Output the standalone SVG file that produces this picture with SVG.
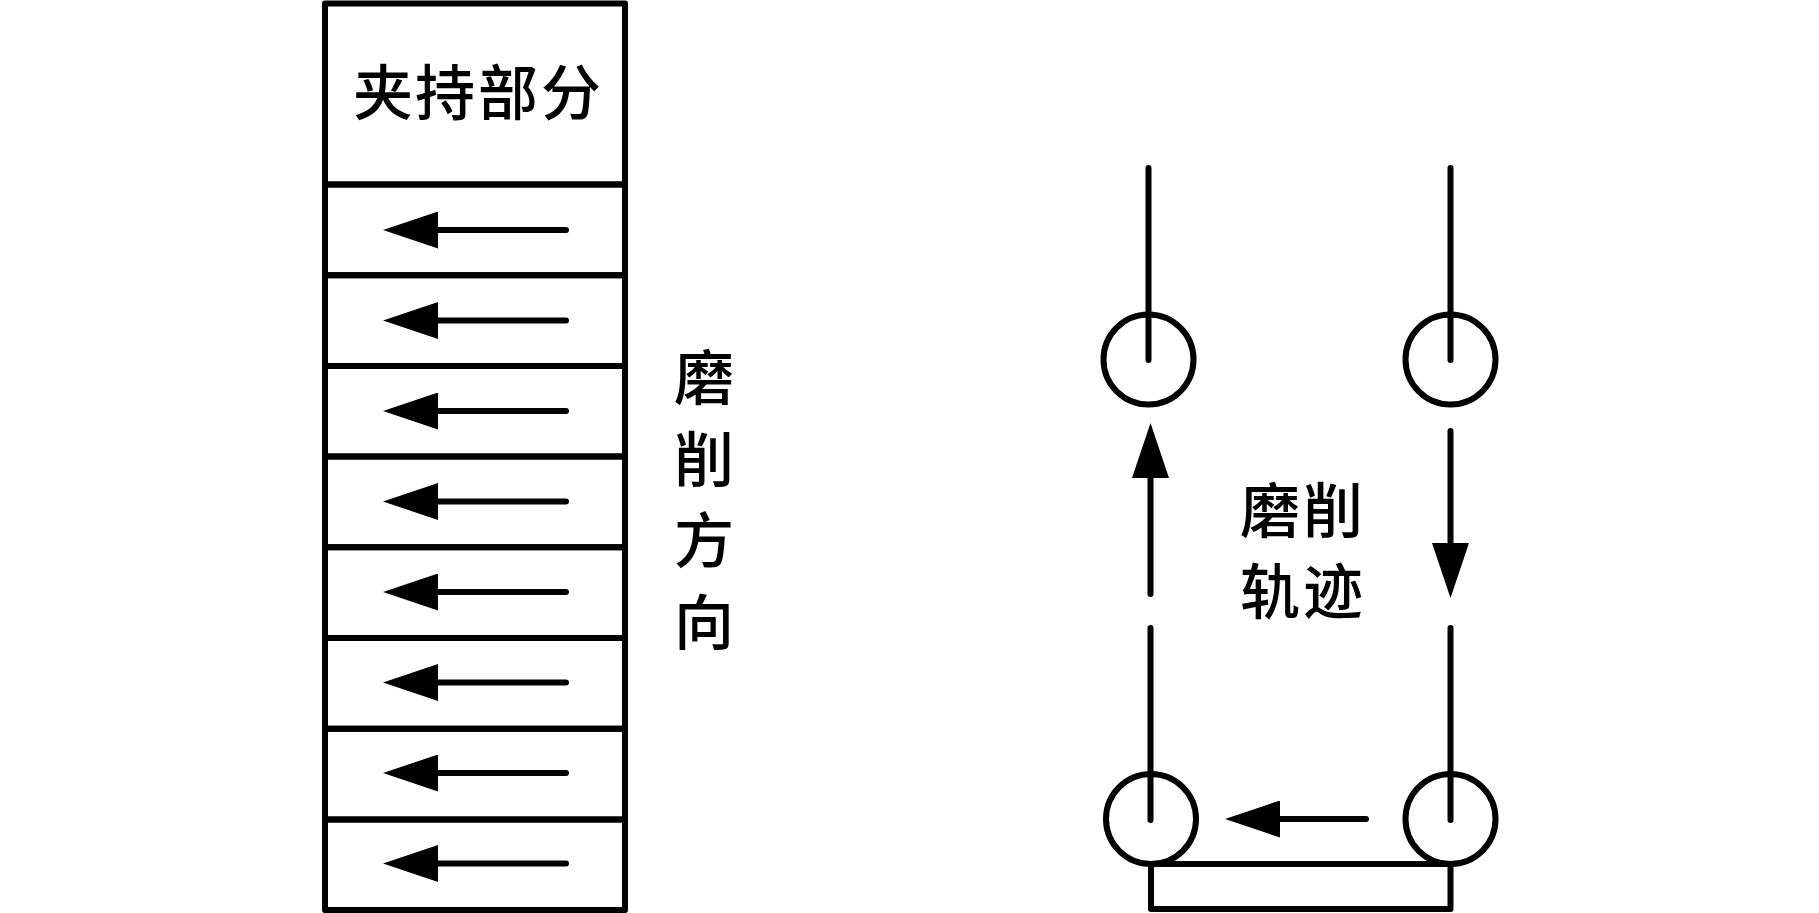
<svg xmlns="http://www.w3.org/2000/svg" width="1819" height="913" viewBox="0 0 1819 913">
<style>
.s{fill:none;stroke:#000;stroke-width:6;stroke-linecap:round;stroke-linejoin:round}
.a{marker-end:url(#arrow)}
.t{font-family:"Noto Sans CJK SC","Noto Sans CJK TC",sans-serif;font-size:60px;font-weight:500;fill:#000;text-anchor:middle}
</style>
<defs>
<marker id="arrow" markerUnits="userSpaceOnUse" viewBox="0 0 55 37" refX="0" refY="18.500" markerWidth="55" markerHeight="37" orient="auto"><path d="M0,0L55,18.500L0,37Z" fill="#000"/></marker>
</defs>
<rect width="1819" height="913" fill="#fff"/>
<g id="clamp"><rect class="s" x="325" y="3.500" width="300" height="181"/><text class="t" x="383 445 508 571" y="115">夹持部分</text></g>
<g id="seg1"><rect class="s" x="325" y="184.500" width="300" height="90.700"/></g>
<g id="seg2"><rect class="s" x="325" y="275.200" width="300" height="90.700"/></g>
<g id="seg3"><rect class="s" x="325" y="365.900" width="300" height="90.700"/></g>
<g id="seg4"><rect class="s" x="325" y="456.600" width="300" height="90.700"/></g>
<g id="seg5"><rect class="s" x="325" y="547.300" width="300" height="90.700"/></g>
<g id="seg6"><rect class="s" x="325" y="638" width="300" height="90.700"/></g>
<g id="seg7"><rect class="s" x="325" y="728.700" width="300" height="90.700"/></g>
<g id="seg8"><rect class="s" x="325" y="819.400" width="300" height="90.700"/></g>
<g id="label-direction"><text class="t" x="704 704 704 704" y="400 482 563 645">磨削方向</text></g>
<g id="label-track"><text class="t" x="1270 1333" y="533">磨削</text><text class="t" x="1270 1333" y="614">轨迹</text></g>
<g id="wheel-tl"><circle class="s" cx="1148.500" cy="359.500" r="45"/></g>
<g id="wheel-tr"><circle class="s" cx="1450.500" cy="359.500" r="45"/></g>
<g id="wheel-bl"><circle class="s" cx="1151" cy="819" r="45"/></g>
<g id="wheel-br"><circle class="s" cx="1450.500" cy="819" r="45"/></g>
<g id="base"><rect class="s" x="1151" y="864" width="299.500" height="45"/></g>
<g id="connectors">
<line class="s a" x1="566" y1="230" x2="438" y2="230"/>
<line class="s a" x1="566" y1="320.500" x2="438" y2="320.500"/>
<line class="s a" x1="566" y1="411" x2="438" y2="411"/>
<line class="s a" x1="566" y1="501.500" x2="438" y2="501.500"/>
<line class="s a" x1="566" y1="592" x2="438" y2="592"/>
<line class="s a" x1="566" y1="682.500" x2="438" y2="682.500"/>
<line class="s a" x1="566" y1="773" x2="438" y2="773"/>
<line class="s a" x1="566" y1="863.500" x2="438" y2="863.500"/>
<line class="s" x1="1148.500" y1="168" x2="1148.500" y2="360"/>
<line class="s" x1="1450.500" y1="168" x2="1450.500" y2="360"/>
<line class="s a" x1="1150.500" y1="594" x2="1150.500" y2="478"/>
<line class="s a" x1="1450.500" y1="431" x2="1450.500" y2="543"/>
<line class="s" x1="1150.500" y1="628" x2="1150.500" y2="820"/>
<line class="s" x1="1450.500" y1="628" x2="1450.500" y2="820"/>
<line class="s a" x1="1366" y1="819" x2="1280" y2="819"/>
</g>
</svg>
